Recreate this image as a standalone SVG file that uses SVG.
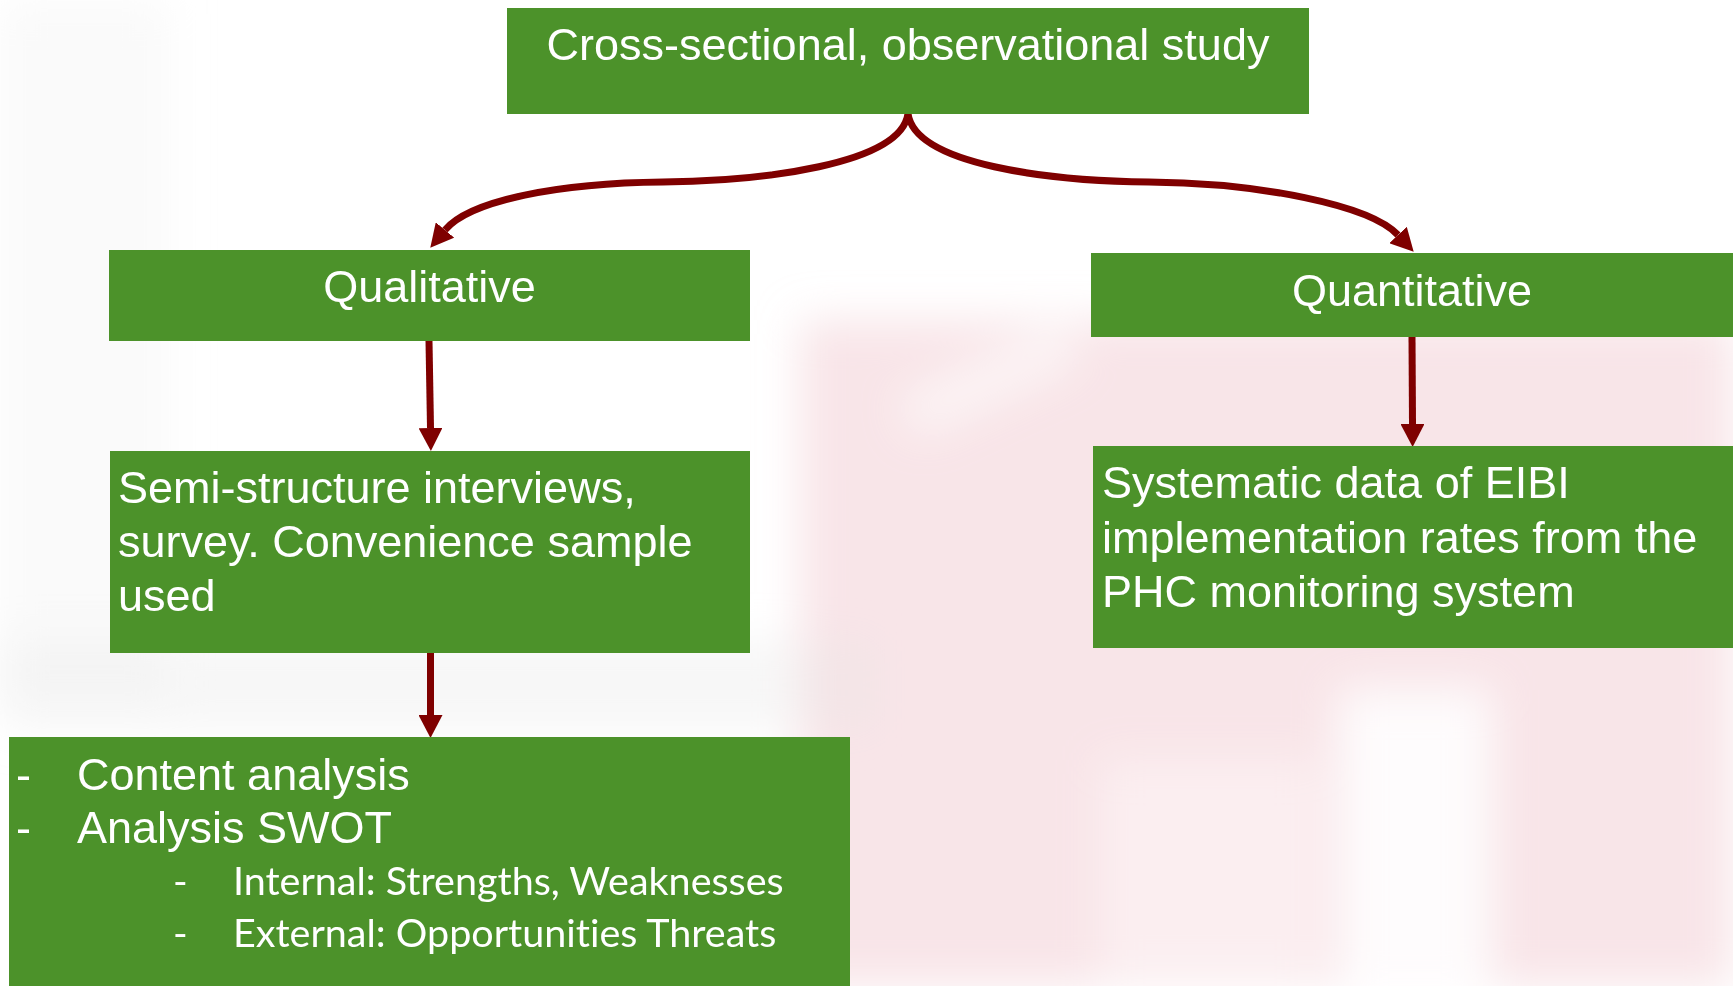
<svg xmlns="http://www.w3.org/2000/svg" width="1733" height="986" viewBox="0 0 1733 986">
<style>
.box{fill:#4C922A}
.t{font-family:"Liberation Sans",Arial,sans-serif;font-size:45px;fill:#FFFFFF}
.s{font-family:Lato,"Open Sans",sans-serif;font-size:39.5px;fill:#FFFFFF;font-variant-ligatures:none}
.c{fill:none;stroke:#7F0000;stroke-width:7}
</style>
<defs>
<marker id="ah" markerUnits="userSpaceOnUse" markerWidth="24" markerHeight="24" refX="0" refY="12" orient="auto">
<path d="M0,0 L23,12 L0,24 Z" fill="#7F0000"/>
</marker>
<filter id="blur" x="-20%" y="-20%" width="140%" height="140%"><feGaussianBlur stdDeviation="22"/></filter>
</defs>
<rect width="1733" height="986" fill="#FFFFFF"/>
<g id="background" filter="url(#blur)">
<rect x="800" y="320" width="933" height="666" fill="#F4D4D9" opacity="0.6"/>
<rect x="900" y="360" width="180" height="40" fill="#FFFFFF" opacity="0.6" transform="rotate(-25 990 380)"/>
<rect x="1340" y="690" width="150" height="296" fill="#FFFFFF" opacity="0.9"/>
<rect x="1100" y="760" width="220" height="226" fill="#FFFFFF" opacity="0.35"/>
<rect x="0" y="0" width="170" height="700" fill="#EEEEEE" opacity="0.3"/>
<rect x="0" y="640" width="880" height="90" fill="#E6E6E6" opacity="0.3"/>
</g>
<g id="connectors">
<path class="c" d="M908,114 C900,165 760,181 663,182 C560,183 470,200 445,230" marker-end="url(#ah)"/>
<path class="c" d="M908,114 C916,165 1050,181 1149,182 C1260,183 1370,205 1398,235" marker-end="url(#ah)"/>
<path class="c" d="M429,341 L430.5,428" marker-end="url(#ah)"/>
<path class="c" d="M1412,337 L1412.5,424" marker-end="url(#ah)"/>
<path class="c" d="M430.5,653 L430.5,715" marker-end="url(#ah)"/>
</g>
<g id="study">
<rect class="box" x="507" y="8" width="802" height="106"/>
<text class="t" x="908" y="60" text-anchor="middle">Cross-sectional, observational study</text>
</g>
<g id="qualitative">
<rect class="box" x="109" y="250" width="641" height="91"/>
<text class="t" x="429.5" y="302" text-anchor="middle">Qualitative</text>
</g>
<g id="quantitative">
<rect class="box" x="1091" y="253" width="642" height="84"/>
<text class="t" x="1412" y="306" text-anchor="middle">Quantitative</text>
</g>
<g id="semi">
<rect class="box" x="110" y="451" width="640" height="202"/>
<text class="t" x="118" y="503">Semi-structure interviews,</text>
<text class="t" x="118" y="557">survey. Convenience sample</text>
<text class="t" x="118" y="611">used</text>
</g>
<g id="systematic">
<rect class="box" x="1093" y="446" width="640" height="202"/>
<text class="t" x="1102" y="498">Systematic data of EIBI</text>
<text class="t" x="1102" y="553">implementation rates from the</text>
<text class="t" x="1102" y="607">PHC monitoring system</text>
</g>
<g id="analysis">
<rect class="box" x="9" y="737" width="841" height="249"/>
<text class="t" x="16" y="790">-</text>
<text class="t" x="77" y="790">Content analysis</text>
<text class="t" x="16" y="843">-</text>
<text class="t" x="77" y="843">Analysis SWOT</text>
<text class="s" x="173" y="895">-</text>
<text class="s" x="233" y="895">Internal: Strengths, Weaknesses</text>
<text class="s" x="173" y="947">-</text>
<text class="s" x="233" y="947">External: Opportunities Threats</text>
</g>
</svg>
